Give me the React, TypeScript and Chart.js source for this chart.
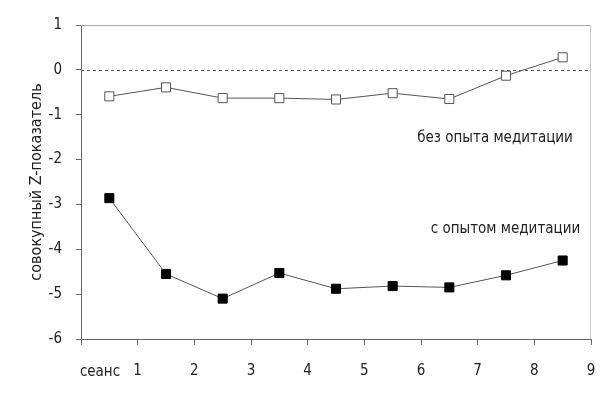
import React, { useEffect, useRef } from 'react';
import { Chart, registerables } from 'chart.js';

Chart.register(...registerables);

// Data
const sessionPositions = [0.5, 1.5, 2.5, 3.5, 4.5, 5.5, 6.5, 7.5, 8.5];
const withoutMeditation = [-0.59, -0.39, -0.63, -0.63, -0.66, -0.52, -0.65, -0.13, 0.28];
const withMeditation = [-2.86, -4.55, -5.1, -4.53, -4.88, -4.82, -4.85, -4.58, -4.25];
const xTickLabels = ['', '1', '2', '3', '4', '5', '6', '7', '8', '9'];
const yTickLabels = ['-6', '-5', '-4', '-3', '-2', '-1', '0', '1'];
const xAxisName = 'сеанс';
const yAxisTitle = 'совокупный Z-показатель';
const labelWithout = 'без опыта медитации';
const labelWith = 'с опытом медитации';

const FONT = '"DejaVu Sans Condensed", "Liberation Sans Narrow", sans-serif';

const decorPlugin = {
  id: 'decor',
  afterDatasetsDraw(chart: any) {
    const { ctx, chartArea, scales } = chart;
    const x = scales.x;
    const y = scales.y;
    ctx.save();
    ctx.lineWidth = 1;
    ctx.strokeStyle = '#a8a8a8';
    ctx.beginPath();
    ctx.moveTo(chartArea.left, chartArea.top + 0.5);
    ctx.lineTo(chartArea.right, chartArea.top + 0.5);
    ctx.stroke();
    ctx.strokeStyle = '#c8c8c8';
    ctx.beginPath();
    ctx.moveTo(chartArea.right - 0.5, chartArea.top);
    ctx.lineTo(chartArea.right - 0.5, chartArea.bottom);
    ctx.stroke();
    const y0 = Math.round(y.getPixelForValue(0)) + 0.5;
    ctx.strokeStyle = '#555';
    ctx.setLineDash([3, 3]);
    ctx.beginPath();
    ctx.moveTo(chartArea.left, y0);
    ctx.lineTo(chartArea.right, y0);
    ctx.stroke();
    ctx.setLineDash([]);
    ctx.fillStyle = '#222';
    ctx.font = '15px ' + FONT;
    ctx.textAlign = 'right';
    ctx.textBaseline = 'alphabetic';
    ctx.fillText(labelWithout, x.getPixelForValue(8.68), y.getPixelForValue(-1.605));
    ctx.fillText(labelWith, x.getPixelForValue(8.81), y.getPixelForValue(-3.63));
    ctx.textAlign = 'center';
    ctx.textBaseline = 'middle';
    ctx.fillText(xAxisName, x.getPixelForValue(0) + 19, 372);
    ctx.restore();
  },
};

export default function App() {
  const ref = useRef<HTMLCanvasElement>(null);
  useEffect(() => {
    if (!ref.current) return;
    const chart = new Chart(ref.current, {
      type: 'line',
      data: {
        datasets: [
          {
            label: labelWithout,
            data: sessionPositions.map((p, i) => ({ x: p, y: withoutMeditation[i] })),
            borderColor: '#555',
            borderWidth: 1,
            pointStyle: 'rect',
            pointRadius: 6.4,
            pointBackgroundColor: '#fff',
            pointBorderColor: '#555',
            pointBorderWidth: 1,
            tension: 0,
          },
          {
            label: labelWith,
            data: sessionPositions.map((p, i) => ({ x: p, y: withMeditation[i] })),
            borderColor: '#555',
            borderWidth: 1,
            pointStyle: 'rect',
            pointRadius: 6.4,
            pointBackgroundColor: '#000',
            pointBorderColor: '#000',
            pointBorderWidth: 1,
            tension: 0,
          },
        ],
      },
      options: {
        animation: false,
        responsive: false,
        layout: { padding: { left: 23, top: 25, right: 9, bottom: 0 } },
        plugins: { legend: { display: false }, tooltip: { enabled: false } },
        scales: {
          x: {
            type: 'linear',
            min: 0,
            max: 9,
            ticks: {
              stepSize: 1,
              autoSkip: false,
              maxRotation: 0,
              padding: 17,
              color: '#222',
              font: { family: FONT, size: 15 },
              callback: (v: any) => xTickLabels[Math.round(Number(v))] ?? '',
            },
            grid: { color: 'transparent', drawTicks: true, tickLength: 6, tickColor: '#666' },
            border: { color: '#666', width: 1 },
            afterFit: (s: any) => { s.height = 59; s.paddingRight = 0; s.paddingLeft = 0; },
          },
          y: {
            min: -6,
            max: 1,
            ticks: {
              stepSize: 1,
              padding: 14,
              color: '#222',
              font: { family: FONT, size: 15 },
              callback: (v: any) => yTickLabels[Math.round(Number(v)) + 6] ?? '',
            },
            grid: { color: 'transparent', drawTicks: true, tickLength: 5, tickColor: '#666' },
            border: { color: '#666', width: 1 },
            title: {
              display: true,
              text: yAxisTitle,
              color: '#222',
              font: { family: FONT, size: 16 },
              padding: { top: 4, bottom: 4 },
            },
            afterFit: (s: any) => { s.width = 58; s.paddingTop = 0; s.paddingBottom = 0; },
          },
        },
      },
      plugins: [decorPlugin],
    });
    return () => chart.destroy();
  }, []);
  return (
    <div style={{ position: 'fixed', left: 0, top: 0, width: 600, height: 398, background: '#fff' }}>
      <canvas ref={ref} width={600} height={398} style={{ width: 600, height: 398 }} />
    </div>
  );
}
